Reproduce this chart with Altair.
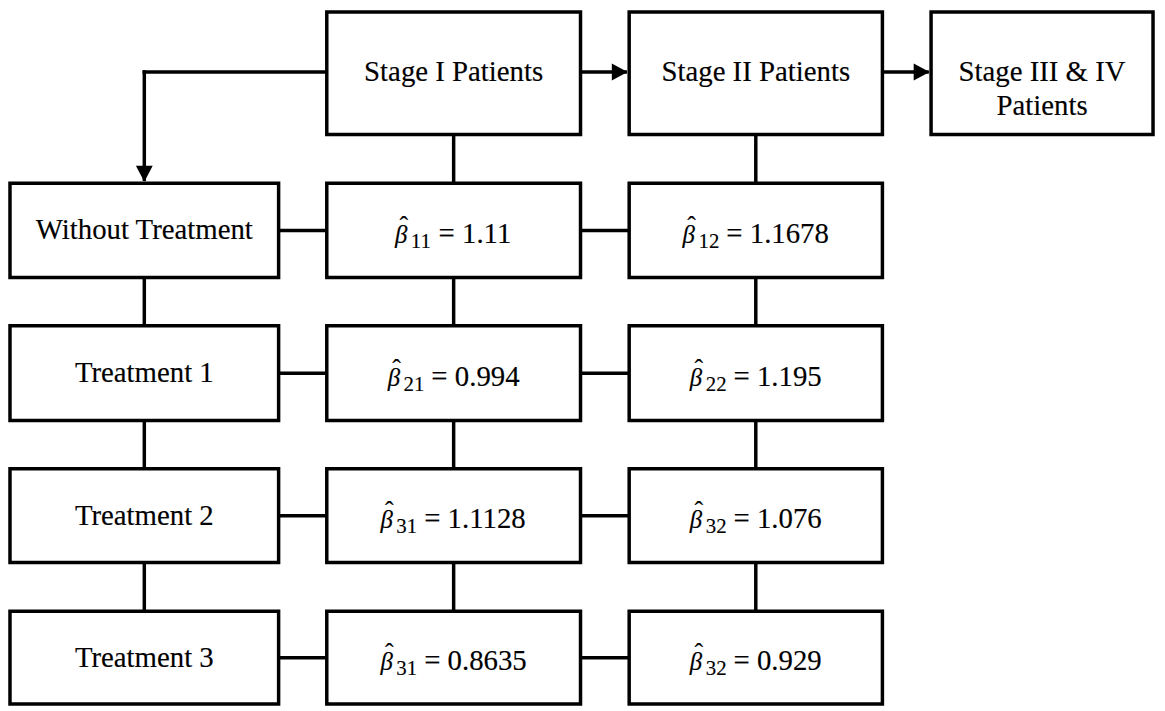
import altair as alt
import pandas as pd

# ---------------- content ----------------
stages = ["Stage I Patients", "Stage II Patients", "Stage III & IV\nPatients"]
treatments = ["Without Treatment", "Treatment 1", "Treatment 2", "Treatment 3"]
stage1_sub = ["11", "21", "31", "31"]
stage1_val = ["1.11", "0.994", "1.1128", "0.8635"]
stage2_sub = ["12", "22", "32", "32"]
stage2_val = ["1.1678", "1.195", "1.076", "0.929"]

# ---------------- layout (page pixels) ----------------
COLS = [(10, 280.5), (329, 584.5), (633.5, 888.5), (937.5, 1161)]
TOP = (9.5, 133)
ROWS = [(182, 277), (325.5, 421), (469.5, 564), (613, 706.5)]
FONT = "Liberation Serif"
LW = 3.5
TSW = 0.15  # slight text stroke for darker glyphs

def cx(c):
    return (c[0] + c[1]) / 2

def cy(r):
    return (r[0] + r[1]) / 2

ty = 70

# boxes
boxes = []
for i, s in enumerate(stages):
    c = COLS[i + 1]
    boxes.append(dict(x=c[0], x2=c[1], y=TOP[0], y2=TOP[1]))
for j, r in enumerate(ROWS):
    for c in COLS[:3]:
        boxes.append(dict(x=c[0], x2=c[1], y=r[0], y2=r[1]))
boxes = pd.DataFrame(boxes)

# labels
labels = []
for i, s in enumerate(stages):
    labels.append(dict(x=cx(COLS[i + 1]), y=ty, text=s))
for j, t in enumerate(treatments):
    labels.append(dict(x=cx(COLS[0]), y=cy(ROWS[j]), text=t))
labels = pd.DataFrame(labels)

# connectors
rules = []
for k in range(3):
    cxx = cx(COLS[k])
    if k > 0:
        rules.append(dict(x=cxx, x2=cxx, y=TOP[1], y2=ROWS[0][0]))
    for j in range(3):
        rules.append(dict(x=cxx, x2=cxx, y=ROWS[j][1], y2=ROWS[j + 1][0]))
for r in ROWS:
    rules.append(dict(x=COLS[0][1], x2=COLS[1][0], y=cy(r), y2=cy(r)))
    rules.append(dict(x=COLS[1][1], x2=COLS[2][0], y=cy(r), y2=cy(r)))
AL = 16
rules.append(dict(x=COLS[1][1], x2=COLS[2][0] - 4, y=ty, y2=ty))
rules.append(dict(x=COLS[2][1], x2=COLS[3][0] - 4, y=ty, y2=ty))
rules.append(dict(x=COLS[1][0], x2=cx(COLS[0]), y=ty, y2=ty))
rules.append(dict(x=cx(COLS[0]), x2=cx(COLS[0]), y=ty, y2=ROWS[0][0] - 4))
rules = pd.DataFrame(rules)

RIGHT = "M-1,-1.06L1,0L-1,1.06Z"
DOWN = "M-1.06,-1L1.06,-1L0,1Z"
arrows = pd.DataFrame([
    dict(x=COLS[2][0] - 1.5 - AL / 2, y=ty, shape=RIGHT),
    dict(x=COLS[3][0] - 1.5 - AL / 2, y=ty, shape=RIGHT),
    dict(x=cx(COLS[0]), y=ROWS[0][0] - 1.5 - AL / 2, shape=DOWN),
])

# beta labels
WB, WSD, GAP, FS = 15, 10.5, 8, 29
CW = {".": 0.25}
beta = []
for k, (subs, vals) in enumerate([(stage1_sub, stage1_val), (stage2_sub, stage2_val)]):
    c = COLS[k + 1]
    for j, r in enumerate(ROWS):
        eq = "= " + vals[j]
        weq = (0.564 + 0.25 + sum(CW.get(ch, 0.5) for ch in vals[j])) * FS
        total = WB + WSD * len(subs[j]) + GAP + weq
        start = cx(c) - total / 2
        base = cy(r) + 12.5
        beta.append(dict(xb=start, xh=start + 9, xs=start + WB + 1,
                         xe=start + WB + WSD * len(subs[j]) + GAP,
                         yb=base, yh=base - 9, ys=base + 5,
                         sub=subs[j], eq=eq))
beta = pd.DataFrame(beta)

# ---------------- chart ----------------
xs = alt.Scale(domain=[8, 1165])
ys = alt.Scale(domain=[8, 711], reverse=True)

def X(f):
    return alt.X(f + ":Q", scale=xs, axis=None)

def Y(f):
    return alt.Y(f + ":Q", scale=ys, axis=None)

rule_layer = alt.Chart(rules).mark_rule(color="black", strokeWidth=LW, strokeCap="square").encode(
    x=X("x"), x2="x2", y=Y("y"), y2="y2")

box_layer = alt.Chart(boxes).mark_rect(fill="white", stroke="black", strokeWidth=LW).encode(
    x=X("x"), x2="x2", y=Y("y"), y2="y2")

arrow_layer = alt.Chart(arrows).mark_point(filled=True, color="black", opacity=1, size=AL * AL, strokeWidth=0).encode(
    x=X("x"), y=Y("y"), shape=alt.Shape("shape:N", scale=None))

label_layer = alt.Chart(labels).mark_text(font=FONT, fontSize=FS, color="black", stroke="black", strokeWidth=TSW,
                                          align="center", baseline="middle", lineBreak="\n", lineHeight=34).encode(
    x=X("x"), y=Y("y"), text="text:N")

beta_b = alt.Chart(beta).mark_text(text="β", font=FONT, fontSize=25, fontStyle="italic", color="black",
                                   stroke="black", strokeWidth=TSW,
                                   align="left", baseline="alphabetic").encode(x=X("xb"), y=Y("yb"))
beta_h = alt.Chart(beta).mark_text(text="ˆ", font=FONT, fontSize=26, color="black",
                                   stroke="black", strokeWidth=TSW,
                                   align="center", baseline="alphabetic").encode(x=X("xh"), y=Y("yh"))
beta_s = alt.Chart(beta).mark_text(font=FONT, fontSize=21, color="black", stroke="black", strokeWidth=TSW,
                                   align="left", baseline="alphabetic").encode(x=X("xs"), y=Y("ys"), text="sub:N")
beta_e = alt.Chart(beta).mark_text(font=FONT, fontSize=FS, color="black", stroke="black", strokeWidth=TSW,
                                   align="left", baseline="alphabetic").encode(x=X("xe"), y=Y("yb"), text="eq:N")

chart = alt.layer(rule_layer, box_layer, arrow_layer, label_layer, beta_b, beta_h, beta_s, beta_e).properties(
    width=1157, height=703, padding=0, autosize="none"
).configure_view(stroke=None)

chart.save("out.html", embed_options={"renderer": "svg", "actions": False})
